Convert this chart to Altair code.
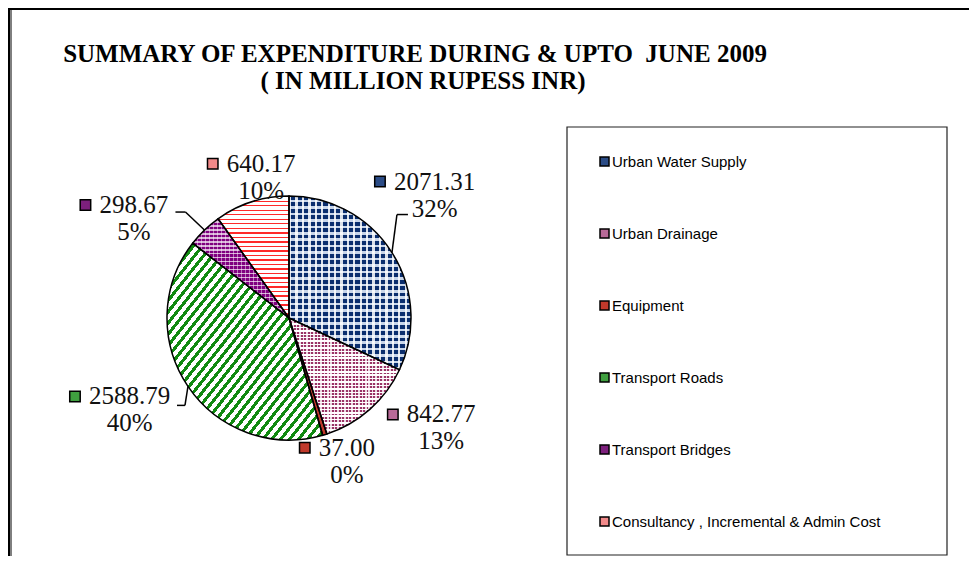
import json
import altair as alt
import pandas as pd

# ---------------- data ----------------
categories = ["Urban Water Supply", "Urban Drainage", "Equipment",
              "Transport Roads", "Transport Bridges",
              "Consultancy , Incremental & Admin Cost"]
values = [2071.31, 842.77, 37.00, 2588.79, 298.67, 640.17]
value_labels = ["2071.31", "842.77", "37.00", "2588.79", "298.67", "640.17"]
pct_labels = ["32%", "13%", "0%", "40%", "5%", "10%"]
title_lines = ["SUMMARY OF EXPENDITURE DURING & UPTO \u00a0JUNE 2009",
               "( IN MILLION RUPESS INR)"]

# ---------------- style / layout ----------------
KEY_COLORS = ["#2b4c86", "#b86a98", "#c0392b", "#3f9f3f", "#7d207d", "#f28a8a"]
W, H = 961, 548
CX, CY, R = 281, 310, 122
FS = 25

# label key offsets from the slice's edge point (pixels)
LABEL_OFF = {
    "Urban Water Supply": (-12, -71),
    "Urban Drainage": (23, 5),
    "Equipment": (-20, 13),
    "Transport Roads": (-113, 10),
    "Transport Bridges": (-119, -25),
    "Consultancy , Incremental & Admin Cost": (-39, -38),
}
# leader: elbow offset from edge point, then end offset from elbow
LEADERS = {
    "Urban Water Supply": ((5, -38), (11, 0)),
    "Transport Roads": ((-3, 19), (-8, 0)),
    "Transport Bridges": ((-19, -18), (-10, 0)),
}


def stripes(c1, c2, n, frac, x2, y2):
    stops = []
    for i in range(n):
        a, b, c = i / n, (i + frac) / n, (i + 1) / n
        stops += [{"offset": round(a, 5), "color": c1},
                  {"offset": round(b, 5), "color": c1},
                  {"offset": round(b, 5), "color": c2},
                  {"offset": round(c, 5), "color": c2}]
    return {"gradient": "linear", "x1": 0, "y1": 0, "x2": x2, "y2": y2, "stops": stops}


PATTERN_A = {
    "Urban Water Supply": stripes("#0b2e6e", "#c9d6ea", 27, 0.6, 0, 1),
    "Urban Drainage": stripes("#993366", "#ffffff", 34, 0.55, 0, 1),
    "Equipment": "#c0392b",
    "Transport Roads": stripes("#118a11", "#ffffff", 35, 0.45, 1, 1),
    "Transport Bridges": stripes("#800080", "#d7b0d7", 25, 0.6, 0, 1),
    "Consultancy , Incremental & Admin Cost": stripes("#ff2a2a", "#ffffff", 27, 0.3, 0, 1),
}
PATTERN_B = {
    "Urban Water Supply": stripes("rgba(255,255,255,0.85)", "rgba(255,255,255,0)", 19, 0.35, 1, 0),
    "Urban Drainage": stripes("rgba(255,255,255,0.8)", "rgba(255,255,255,0)", 32, 0.45, 1, 0),
    "Transport Bridges": stripes("rgba(255,255,255,0.45)", "rgba(255,255,255,0)", 24, 0.3, 1, 0),
}


def cond_fill(mapping, default):
    return alt.value(default, condition=[
        {"test": f"datum.category === {json.dumps(c)}", "value": v}
        for c, v in mapping.items()])


df = pd.DataFrame({
    "category": categories,
    "value": values,
    "value_label": value_labels,
    "pct_label": pct_labels,
    "order": list(range(len(categories))),
})

theta = alt.Theta("value:Q", stack=True)
order = alt.Order("order:Q")

legend_layer = alt.Chart(df).mark_arc(outerRadius=R).encode(
    theta=theta, order=order,
    color=alt.Color("category:N",
                    scale=alt.Scale(domain=categories, range=KEY_COLORS),
                    sort=categories,
                    legend=alt.Legend(title=None, orient="none", legendX=589, legendY=146,
                                      symbolType="square", symbolSize=81,
                                      symbolStrokeColor="black", symbolStrokeWidth=1.5,
                                      labelFont="Liberation Sans", labelFontSize=15,
                                      labelColor="black", rowPadding=56, labelOffset=0,
                                      labelLimit=400, padding=0)),
    x=alt.value(CX), y=alt.value(CY),
)

layer_a = alt.Chart(df).mark_arc(outerRadius=R).encode(
    theta=theta, order=order, detail="category:N",
    fill=cond_fill(PATTERN_A, "#999999"),
    x=alt.value(CX), y=alt.value(CY),
)
layer_b = alt.Chart(df).mark_arc(outerRadius=R, stroke="black", strokeWidth=1.5).encode(
    theta=theta, order=order, detail="category:N",
    fill=cond_fill(PATTERN_B, "transparent"),
    x=alt.value(CX), y=alt.value(CY),
)


def placed(cat):
    return (alt.Chart(df)
            .transform_joinaggregate(total="sum(value)")
            .transform_window(cum="sum(value)", sort=[{"field": "order"}], frame=[None, 0])
            .transform_calculate(mid="(datum.cum - datum.value / 2) / datum.total * 2 * PI")
            .transform_filter(alt.datum.category == cat)
            .transform_calculate(ex=f"{CX} + {R} * sin(datum.mid)",
                                 ey=f"{CY} - {R} * cos(datum.mid)"))


def px(f):
    return alt.X(f"{f}:Q", scale=None, axis=None)


def py(f):
    return alt.Y(f"{f}:Q", scale=None, axis=None)


label_layers = []
for cat, col, vl in zip(categories, KEY_COLORS, value_labels):
    ox, oy = LABEL_OFF[cat]
    width = FS * (0.5 * sum(ch.isdigit() for ch in vl) + 0.25 * vl.count("."))
    base = placed(cat).transform_calculate(
        kx=f"datum.ex + {ox}", ky=f"datum.ey + {oy}",
        nx=f"datum.ex + {ox} + 14", qx=f"datum.ex + {ox} + 14 + {width / 2}",
        qy=f"datum.ey + {oy} + 27")
    label_layers.append(base.mark_square(size=110, stroke="black", strokeWidth=1.5,
                                         fill=col, opacity=1).encode(x=px("kx"), y=py("ky")))
    label_layers.append(base.mark_text(font="Liberation Serif", fontSize=FS, align="left",
                                       baseline="middle", color="#111111").encode(
        x=px("nx"), y=py("ky"), text="value_label:N"))
    label_layers.append(base.mark_text(font="Liberation Serif", fontSize=FS, align="center",
                                       baseline="middle", color="#111111").encode(
        x=px("qx"), y=py("qy"), text="pct_label:N"))

leader_layers = []
for cat, ((bx, by), (cx2, cy2)) in LEADERS.items():
    base = placed(cat).transform_calculate(
        bx=f"datum.ex + {bx}", by=f"datum.ey + {by}",
        fx=f"datum.ex + {bx + cx2}", fy=f"datum.ey + {by + cy2}")
    leader_layers.append(base.mark_rule(color="black", strokeWidth=1.5).encode(
        x=px("ex"), y=py("ey"), x2="bx:Q", y2="by:Q"))
    leader_layers.append(base.mark_rule(color="black", strokeWidth=1.5).encode(
        x=px("bx"), y=py("by"), x2="fx:Q", y2="fy:Q"))

one = pd.DataFrame({"a": [0]})
frame_top = alt.Chart(one).mark_rule(color="black", strokeWidth=3).encode(
    x=alt.value(0), x2=alt.value(W), y=alt.value(0.5))
frame_left = alt.Chart(one).mark_rule(color="black", strokeWidth=3).encode(
    x=alt.value(0.5), y=alt.value(0), y2=alt.value(H))
frame_inner = alt.Chart(one).mark_rule(color="black", strokeWidth=1).encode(
    x=alt.value(3), y=alt.value(2), y2=alt.value(H))
legend_box = alt.Chart(one).mark_rect(fill="white", stroke="#222222", strokeWidth=1.2).encode(
    x=alt.value(559), x2=alt.value(939), y=alt.value(119), y2=alt.value(547))

t1 = alt.Chart(pd.DataFrame({"t": [title_lines[0]]})).mark_text(
    font="Liberation Serif", fontWeight="bold", fontSize=25, align="center",
    baseline="alphabetic", color="black").encode(
    x=alt.value(407), y=alt.value(54), text="t:N")
t2 = alt.Chart(pd.DataFrame({"t": [title_lines[1]]})).mark_text(
    font="Liberation Serif", fontWeight="bold", fontSize=25, align="center",
    baseline="alphabetic", color="black").encode(
    x=alt.value(415), y=alt.value(81), text="t:N")

chart = alt.layer(
    legend_box, legend_layer, layer_a, layer_b, *leader_layers, *label_layers,
    frame_top, frame_left, frame_inner, t1, t2,
).properties(
    width=W, height=H, padding=0,
    autosize=alt.AutoSizeParams(type="none"),
    background="white",
).configure_view(stroke=None)

chart.save("out.html", embed_options={"renderer": "svg", "actions": False})
